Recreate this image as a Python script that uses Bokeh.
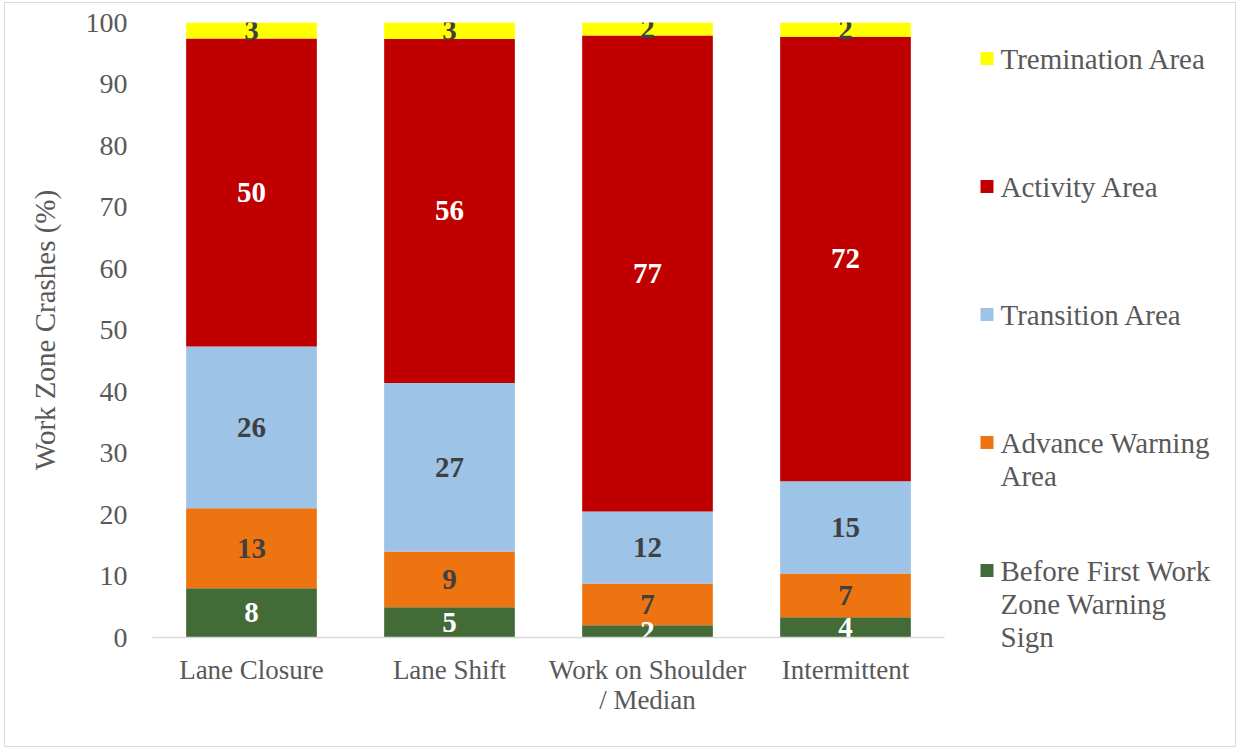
from bokeh.plotting import figure
from bokeh.models import ColumnDataSource, FactorRange, Range1d, FixedTicker
from bokeh.layouts import row, column
from bokeh.core.properties import value
from bokeh.embed import file_html
from bokeh.resources import INLINE

# ---- data ----
categories = ["Lane Closure", "Lane Shift", "Work on Shoulder\n/ Median", "Intermittent"]
legend_lines = [["Tremination Area"], ["Activity Area"], ["Transition Area"],
                ["Advance Warning", "Area"], ["Before First Work", "Zone Warning", "Sign"]]
before = [8.0, 4.9, 2.0, 3.3]
advance = [13.0, 9.1, 6.8, 7.1]
transition = [26.3, 27.4, 11.7, 15.0]
activity = [50.1, 55.9, 77.4, 72.3]
termination = [2.6, 2.7, 2.1, 2.3]
before_lbl = [8, 5, 2, 4]
advance_lbl = [13, 9, 7, 7]
transition_lbl = [26, 27, 12, 15]
activity_lbl = [50, 56, 77, 72]
termination_lbl = [3, 3, 2, 2]
y_ticks = list(range(0, 101, 10))

colors = ["#426b38", "#ee7411", "#9dc3e6", "#c00000", "#ffff00"]
label_colors = ["white", "#404040", "#404040", "white", "#404040"]
FONT = "Liberation Serif"
GREY = "#595959"

series = [before, advance, transition, activity, termination]
labels = [before_lbl, advance_lbl, transition_lbl, activity_lbl, termination_lbl]
keys = ["s0", "s1", "s2", "s3", "s4"]

data = {"cat": categories}
for k, s in zip(keys, series):
    data[k] = s
src = ColumnDataSource(data)

# layout (page pixels; content box starts at (5, 3))
OX, OY = 5, 3
TOTAL_H = 743
MAIN_W = 950
LEG_W = 280
FRAME_TOP, FRAME_BOTTOM, FRAME_LEFT, FRAME_RIGHT = 22, 637, 152, 944

p = figure(x_range=FactorRange(*categories), y_range=Range1d(0, 100),
           width=MAIN_W, height=TOTAL_H, output_backend="svg", toolbar_location=None,
           min_border_left=FRAME_LEFT - OX, min_border_right=OX + MAIN_W - FRAME_RIGHT,
           min_border_top=FRAME_TOP - OY, min_border_bottom=OY + TOTAL_H - FRAME_BOTTOM)
p.vbar_stack(keys, x="cat", width=0.66, color=colors, line_color=None, source=src)

# segment labels
for idx, (s, lbls, lc) in enumerate(zip(series, labels, label_colors)):
    bottoms = [sum(series[j][i] for j in range(idx)) for i in range(len(categories))]
    mids = [b + v / 2 for b, v in zip(bottoms, s)]
    p.text(x=categories, y=mids, text=[str(l) for l in lbls], text_align="center",
           text_baseline="middle", text_font=value(FONT), text_font_size="29px",
           text_font_style="bold", text_color=lc)

p.xgrid.grid_line_color = None
p.ygrid.grid_line_color = None
p.outline_line_color = None

p.yaxis.ticker = FixedTicker(ticks=y_ticks)
p.yaxis.axis_line_color = None
p.yaxis.major_tick_line_color = None
p.yaxis.minor_tick_line_color = None
p.yaxis.major_label_text_font = FONT
p.yaxis.major_label_text_font_size = "28px"
p.yaxis.major_label_text_color = GREY
p.yaxis.major_label_standoff = 19
p.yaxis.axis_label = "Work Zone Crashes (%)"
p.yaxis.axis_label_text_font = FONT
p.yaxis.axis_label_text_font_size = "29px"
p.yaxis.axis_label_text_font_style = "normal"
p.yaxis.axis_label_text_color = GREY
p.yaxis.axis_label_standoff = 22

p.xaxis.axis_line_color = "#d9d9d9"
p.xaxis.axis_line_width = 1.5
p.xaxis.major_tick_line_color = None
p.xaxis.minor_tick_line_color = None
p.xaxis.major_label_text_font = FONT
p.xaxis.major_label_text_font_size = "27px"
p.xaxis.major_label_text_color = GREY
p.xaxis.major_label_text_line_height = 1.0
p.xaxis.major_label_standoff = 11

# ---- legend panel: full-canvas frame, y measured in page px ----
q = figure(x_range=Range1d(0, LEG_W), y_range=Range1d(OY + TOTAL_H, OY),
           width=LEG_W, height=TOTAL_H, output_backend="svg", toolbar_location=None,
           min_border=0)
q.axis.visible = False
q.grid.visible = False
q.outline_line_color = None

first_y = 58
step = 128
line_h = 33
order = [4, 3, 2, 1, 0]  # legend order: top = last series
for n, si in enumerate(order):
    y0 = first_y + n * step
    lines = legend_lines[n]
    q.scatter(x=[31.5], y=[y0], marker="square", size=13, color=colors[si], line_color=None)
    q.text(x=[45] * len(lines), y=[y0 + k * line_h for k in range(len(lines))], text=lines,
           text_align="left", text_baseline="middle", text_font=value(FONT),
           text_font_size="29px", text_color=GREY)

layout = row(p, column(q), styles={"border": "1px solid #d9d9d9", "margin-left": "4px",
                                   "margin-top": "2px"})
open("out.html", "w").write(file_html(layout, INLINE))
